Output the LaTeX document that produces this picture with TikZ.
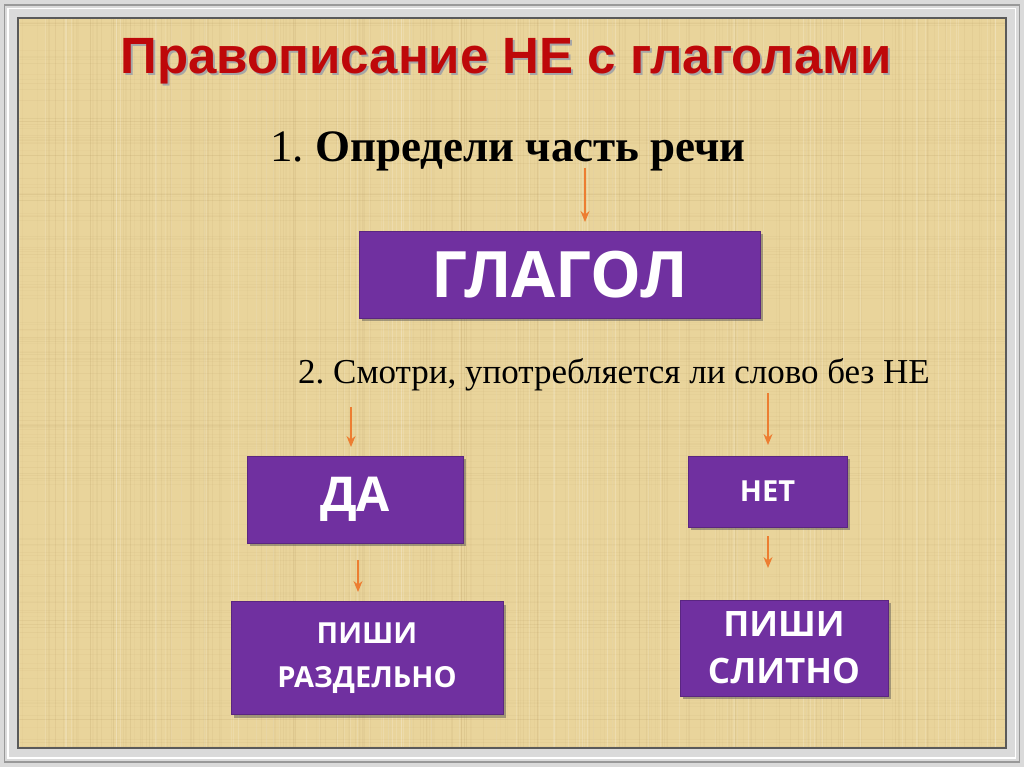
\documentclass[tikz,border=0pt]{standalone}
\usepackage{fontspec}
\setmainfont{Liberation Serif}
\newfontfamily\titlefont{Liberation Sans}
\newfontfamily\boxfont{Open Sans}
\usetikzlibrary{shadows,arrows.meta}
\definecolor{purp}{RGB}{112,48,160}
\definecolor{arrowc}{RGB}{237,125,49}
\definecolor{titlered}{RGB}{190,8,10}
\definecolor{bgc}{RGB}{233,212,155}
\definecolor{fiber}{RGB}{170,140,85}
\definecolor{framegray}{RGB}{218,218,218}
\definecolor{darkline}{RGB}{90,90,90}
\tikzset{
  box/.style={rectangle, fill=purp, draw=purp!80!black, line width=0.6pt, text=white,
    font=\boxfont\bfseries, align=center, inner sep=0pt,
    drop shadow={shadow xshift=3pt, shadow yshift=-3pt, opacity=0.45, fill=black!70}},
  arr/.style={draw=arrowc, line width=1.4pt, -{Stealth[length=11pt,width=9pt]}},
}
\newcommand{\shadowtext}[1]{\rlap{\kern2pt\raisebox{-2pt}{\textcolor{black!35}{#1}}}\textcolor{titlered}{#1}}
\begin{document}
\begin{tikzpicture}[x=1pt,y=-1pt]
\useasboundingbox (0,0) rectangle (1024,767);
% frame
\fill[framegray] (0,0) rectangle (1024,767);
\draw[gray!80, line width=1.5pt] (4.5,5) rectangle (1019.5,762);
\draw[white, line width=1.2pt] (8,8.5) rectangle (1015.5,758);
\fill[bgc] (18,18) rectangle (1006,748);
% texture
\pgfmathsetseed{7}
\begin{scope}
\clip (18,18) rectangle (1006,748);
\foreach \i in {1,...,220}{
  \pgfmathsetmacro\xx{18+rnd*988}
  \pgfmathsetmacro\oo{0.03+0.07*rnd}
  \draw[fiber, opacity=\oo, line width=0.9pt] (\xx,18) -- (\xx,748);
}
\foreach \i in {1,...,160}{
  \pgfmathsetmacro\yy{18+rnd*730}
  \pgfmathsetmacro\oo{0.03+0.06*rnd}
  \draw[fiber, opacity=\oo, line width=0.9pt] (18,\yy) -- (1006,\yy);
}
\foreach \i in {1,...,90}{
  \pgfmathsetmacro\xx{18+rnd*988}
  \pgfmathsetmacro\oo{0.08+0.12*rnd}
  \draw[white, opacity=\oo, line width=1pt] (\xx,18) -- (\xx,748);
}
\end{scope}
\draw[darkline, line width=1.5pt] (18,18) rectangle (1006,748);

% title
\node[anchor=base, font=\titlefont\bfseries\fontsize{51}{60}\selectfont] (title) at (506,74) {\shadowtext{Правописание НЕ с глаголами}};

% step 1
\node[anchor=base, font=\fontsize{45}{50}\selectfont] (q1) at (508,162) {\frenchspacing 1. \textbf{Определи часть речи}};
\node[box, minimum width=401pt, minimum height=87pt, font=\boxfont\bfseries\fontsize{64}{70}\selectfont] (glagol) at (559.5,274.5) {ГЛАГОЛ};

% step 2
\node[anchor=base, font=\fontsize{35}{40}\selectfont] (q2) at (614,383) {\frenchspacing 2. Смотри, употребляется ли слово без НЕ};

\node[box, minimum width=216pt, minimum height=87pt, font=\boxfont\bfseries\fontsize{48}{54}\selectfont] (da) at (355,499.5) {ДА};
\node[box, minimum width=159pt, minimum height=71pt, font=\boxfont\bfseries\fontsize{29}{34}\selectfont] (net) at (767.5,491.5) {НЕТ};

\node[box, minimum width=272pt, minimum height=113pt, font=\boxfont\bfseries\fontsize{29}{44}\selectfont] (razd) at (367,658) {ПИШИ\\РАЗДЕЛЬНО};
\node[box, minimum width=208pt, minimum height=96pt, font=\boxfont\bfseries\fontsize{35}{47}\selectfont] (slit) at (784,648) {ПИШИ\\СЛИТНО};

% arrows
\coordinate (a1s) at (585,168);   \coordinate (a1e) at (585,222);
\coordinate (a2s) at (351,407);   \coordinate (a2e) at (351,447);
\coordinate (a3s) at (768,393);   \coordinate (a3e) at (768,445);
\coordinate (a4s) at (358,560);   \coordinate (a4e) at (358,592);
\coordinate (a5s) at (768,536);   \coordinate (a5e) at (768,568);
\draw[arr] (a1s) -- (a1e);
\draw[arr] (a2s) -- (a2e);
\draw[arr] (a3s) -- (a3e);
\draw[arr] (a4s) -- (a4e);
\draw[arr] (a5s) -- (a5e);
\end{tikzpicture}
\end{document}
